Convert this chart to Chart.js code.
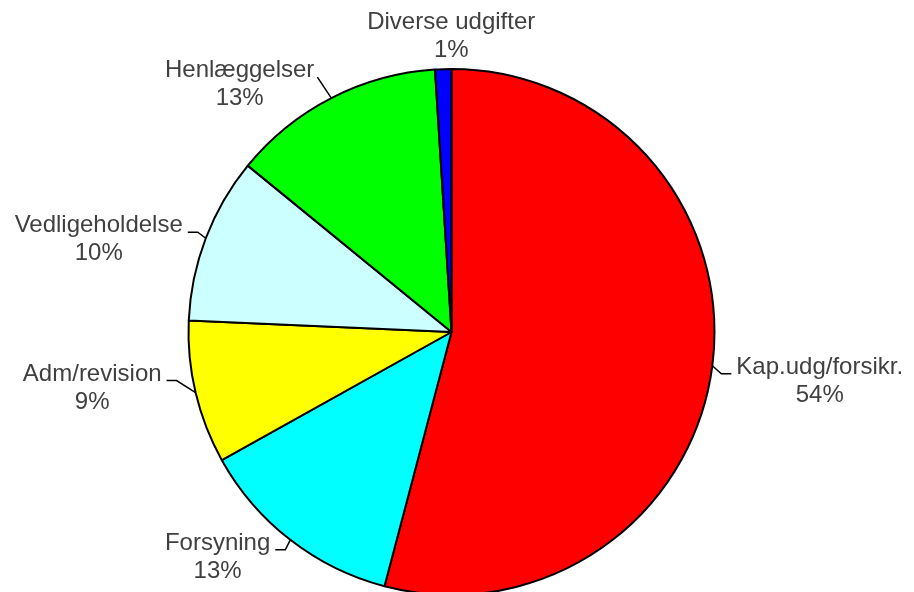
<!DOCTYPE html>
<html lang="da">
    <head>
        <meta charset="UTF-8" />
        <title>Udgifter</title>
        <script src="https://cdn.jsdelivr.net/npm/chart.js@4.4.0/dist/chart.umd.min.js"></script>
        <style>
            html, body { margin: 0; padding: 0; background: #fff; overflow: hidden; }
            #wrap { width: 914px; height: 592px; overflow: hidden; }
        </style>
    </head>
    <body>
        <div id="wrap">
            <canvas id="canvas" width="914" height="600"></canvas>
        </div>
        <script>
            // slices, clockwise from 12 o'clock
            var categories = ["Kap.udg/forsikr.", "Forsyning", "Adm/revision", "Vedligeholdelse", "Henlæggelser", "Diverse udgifter"];
            var values = [54.1, 12.8, 8.8, 10.2, 13.1, 1.0];
            var sliceColors = ["#FF0000", "#00FFFF", "#FFFF00", "#CCFFFF", "#00FF00", "#0000FF"];

            // outside labels with leader lines, placed from each arc's geometry
            var calloutLabels = {
                id: "calloutLabels",
                afterDatasetsDraw: function (chart, args, opts) {
                    var ctx = chart.ctx;
                    var meta = chart.getDatasetMeta(0);
                    var total = values.reduce(function (a, b) { return a + b; }, 0);
                    ctx.save();
                    ctx.font = opts.font;
                    ctx.textAlign = "center";
                    ctx.textBaseline = "alphabetic";
                    meta.data.forEach(function (arc, i) {
                        var p = arc.getProps(["x", "y", "startAngle", "endAngle", "outerRadius"], true);
                        var mid = (p.startAngle + p.endAngle) / 2;
                        var ax = p.x + Math.cos(mid) * p.outerRadius;
                        var ay = p.y + Math.sin(mid) * p.outerRadius;
                        var lines = [categories[i], Math.round(values[i] / total * 100) + "%"];
                        var w = Math.max.apply(null, lines.map(function (t) { return ctx.measureText(t).width; }));
                        var h = lines.length * opts.lineHeight;
                        var nudge = opts.nudge[i] || [0, 0];
                        var isTop = Math.abs(Math.cos(mid)) < 0.2 && Math.sin(mid) < 0;
                        var dir = Math.cos(mid) >= 0 ? 1 : -1;
                        var cx, cy;
                        if (isTop) {
                            cx = ax + nudge[0];
                            cy = ay - opts.gapTop - h / 2 + nudge[1];
                        } else {
                            cx = ax + dir * (opts.gap + w / 2) + nudge[0];
                            cy = ay + nudge[1];
                        }
                        var base1 = cy - h / 2 + opts.firstBaseline;

                        if (!isTop) {
                            var ex = cx - dir * (w / 2 + 5);
                            ctx.beginPath();
                            ctx.moveTo(ax, ay);
                            if (Math.abs(ay - base1) > Math.abs(ax - ex)) {
                                // steep: one straight stroke
                                ctx.lineTo(ex + dir * 2, base1);
                            } else {
                                var bx = ex - dir * Math.min(10, Math.abs(ax - ex) - 2);
                                ctx.lineTo(bx, base1);
                                ctx.lineTo(ex, base1);
                            }
                            ctx.strokeStyle = "#000";
                            ctx.lineWidth = 1.5;
                            ctx.stroke();
                        }

                        ctx.fillStyle = opts.color;
                        lines.forEach(function (t, k) {
                            ctx.fillText(t, cx, base1 + k * opts.lineHeight);
                        });
                    });
                    ctx.restore();
                },
            };

            var ctx = document.getElementById("canvas").getContext("2d");
            var chart = new Chart(ctx, {
                type: "pie",
                data: {
                    labels: categories,
                    datasets: [
                        {
                            data: values,
                            backgroundColor: sliceColors,
                            borderColor: "#000000",
                            borderWidth: 2,
                        },
                    ],
                },
                options: {
                    responsive: false,
                    animation: false,
                    layout: { padding: { top: 68, bottom: 4, left: 150, right: 161 } },
                    plugins: {
                        legend: { display: false },
                        tooltip: { enabled: false },
                        calloutLabels: {
                            font: '24px "Liberation Sans", Arial, sans-serif',
                            color: "#404040",
                            lineHeight: 28,
                            firstBaseline: 18,
                            gap: 22,
                            gapTop: 2,
                            nudge: [[2, 18], [2, 20], [-12, -2], [-1, 4], [5, -11], [8, 0]],
                        },
                    },
                },
                plugins: [calloutLabels],
            });
        </script>
    </body>
</html>
